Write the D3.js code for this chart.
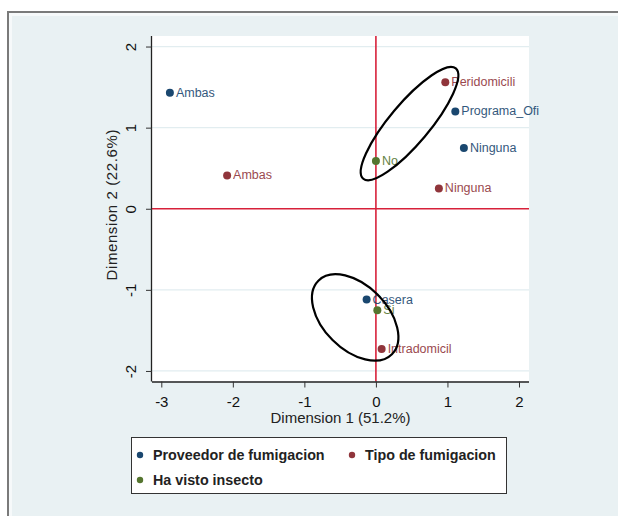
<!DOCTYPE html>
<html>
<head>
<meta charset="utf-8">
<script src="https://cdn.jsdelivr.net/npm/d3@7"></script>
<style>
  body { margin: 0; background: #fff; }
  text { font-family: "Liberation Sans", Arial, sans-serif; }
</style>
</head>
<body>
<div id="chart"></div>
<script>
// groups (legend) and their colours
const groups = ["Proveedor de fumigacion", "Tipo de fumigacion", "Ha visto insecto"];
const groupColors = ["#1a476f", "#90353b", "#55752f"];

// points: label, group index, dim1, dim2
const labels = ["Ambas", "Programa_Ofi", "Ninguna", "Casera",
                "Ambas", "Peridomicili", "Ninguna", "Intradomicil",
                "No", "Si"];
const groupIdx = [0, 0, 0, 0, 1, 1, 1, 1, 2, 2];
const dim1 = [-2.88, 1.11, 1.23, -0.13, -2.08, 0.97, 0.88, 0.08, 0.0, 0.02];
const dim2 = [1.43, 1.20, 0.75, -1.12, 0.41, 1.56, 0.25, -1.73, 0.59, -1.25];

const xTicks = [-3, -2, -1, 0, 1, 2];
const yTicks = [-2, -1, 0, 1, 2];

// hand drawn ellipses (centre in data units)
const ellCx = [0.47, -0.29];
const ellCy = [1.05, -1.34];

const width = 618, height = 516;
const svg = d3.select("#chart").append("svg")
    .attr("width", width)
    .attr("height", height);

// outer frame
svg.append("rect")
    .attr("x", 8).attr("y", 12)
    .attr("width", width).attr("height", height)
    .attr("fill", "#e9f1f3")
    .attr("stroke", "#7a7a7a")
    .attr("stroke-width", 2);
svg.append("rect")
    .attr("x", 10.5).attr("y", 14.5)
    .attr("width", width).attr("height", height)
    .attr("fill", "none")
    .attr("stroke", "#f6f9fa")
    .attr("stroke-width", 3);

const plot = { left: 152, right: 529, top: 36, bottom: 381.5 };

const x = d3.scaleLinear().domain([-3.13, 2.14]).range([plot.left, plot.right]);
const y = d3.scaleLinear().domain([-2.13, 2.13]).range([plot.bottom, plot.top]);

// plot region
svg.append("rect")
    .attr("x", plot.left).attr("y", plot.top)
    .attr("width", plot.right - plot.left)
    .attr("height", plot.bottom - plot.top)
    .attr("fill", "#fff");

// horizontal grid
svg.selectAll(".grid")
    .data(yTicks.filter(d => d !== 0))
    .enter().append("line")
    .attr("x1", plot.left).attr("x2", plot.right)
    .attr("y1", d => y(d)).attr("y2", d => y(d))
    .attr("stroke", "#e2edf0")
    .attr("stroke-width", 1.2);

// reference lines at 0
svg.append("line")
    .attr("x1", plot.left).attr("x2", plot.right)
    .attr("y1", y(0)).attr("y2", y(0))
    .attr("stroke", "#d7213a").attr("stroke-width", 1.6);
svg.append("line")
    .attr("x1", x(0)).attr("x2", x(0))
    .attr("y1", plot.top).attr("y2", plot.bottom)
    .attr("stroke", "#d7213a").attr("stroke-width", 1.6);

// axes
const xAxis = svg.append("g")
    .attr("transform", `translate(0,${plot.bottom})`)
    .call(d3.axisBottom(x).tickValues(xTicks).tickSize(6).tickPadding(9).tickFormat(d3.format("d")));
xAxis.select(".domain").attr("d", `M${plot.left},0.5H${plot.right}`).attr("stroke", "#222").attr("stroke-width", 1.3);
xAxis.selectAll(".tick line").attr("stroke", "#333");
xAxis.selectAll(".tick text")
    .style("font-size", "15px").attr("fill", "#111")
    .text(d => d < 0 ? "-" + Math.abs(d) : d);

const yAxis = svg.append("g")
    .attr("transform", `translate(${plot.left},0)`)
    .call(d3.axisLeft(y).tickValues(yTicks).tickSize(6).tickFormat(d3.format("d")));
yAxis.select(".domain").attr("d", `M-0.5,${plot.top}V${plot.bottom}`).attr("stroke", "#222").attr("stroke-width", 1.3);
yAxis.selectAll(".tick line").attr("stroke", "#333");
yAxis.selectAll(".tick text")
    .style("font-size", "15px").attr("fill", "#111")
    .attr("x", 0).attr("dy", 0)
    .attr("text-anchor", "middle")
    .attr("transform", "translate(-20,0) rotate(-90)")
    .attr("dominant-baseline", "middle")
    .text(d => d < 0 ? "-" + Math.abs(d) : d);

// axis titles
svg.append("text")
    .attr("x", (plot.left + plot.right) / 2)
    .attr("y", 423)
    .attr("text-anchor", "middle")
    .style("font-size", "15px")
    .attr("fill", "#222")
    .text("Dimension 1 (51.2%)");

svg.append("text")
    .attr("transform", `translate(117,${(plot.top + plot.bottom) / 2 - 4}) rotate(-90)`)
    .attr("text-anchor", "middle")
    .style("font-size", "15px")
    .style("letter-spacing", "0.6px")
    .attr("fill", "#222")
    .text("Dimension 2 (22.6%)");

// points + labels
const pts = labels.map((l, i) => ({ label: l, g: groupIdx[i], d1: dim1[i], d2: dim2[i] }));

svg.selectAll(".pt")
    .data(pts)
    .enter().append("circle")
    .attr("cx", d => x(d.d1))
    .attr("cy", d => y(d.d2))
    .attr("r", 4)
    .attr("fill", d => groupColors[d.g]);

svg.selectAll(".lbl")
    .data(pts)
    .enter().append("text")
    .attr("x", d => x(d.d1) + 6)
    .attr("y", d => y(d.d2))
    .attr("dominant-baseline", "central")
    .style("font-size", "12.5px")
    .attr("fill", d => groupColors[d.g])
    .attr("opacity", 0.9)
    .text(d => d.label);

// ellipses
const ellRx = [72, 52], ellRy = [20, 32], ellRot = [-50, 45];
svg.selectAll(".ell")
    .data(ellCx.map((c, i) => ({ cx: c, cy: ellCy[i], rx: ellRx[i], ry: ellRy[i], rot: ellRot[i] })))
    .enter().append("ellipse")
    .attr("transform", d => `translate(${x(d.cx)},${y(d.cy)}) rotate(${d.rot})`)
    .attr("rx", d => d.rx)
    .attr("ry", d => d.ry)
    .attr("fill", "none")
    .attr("stroke", "#000")
    .attr("stroke-width", 2.2);

// legend
const legend = svg.append("g");
legend.append("rect")
    .attr("x", 131.5).attr("y", 437.5)
    .attr("width", 375).attr("height", 56)
    .attr("fill", "#fff")
    .attr("stroke", "#333")
    .attr("stroke-width", 1);

const legPos = [[140, 455], [352, 455], [140, 480]];
groups.forEach((g, i) => {
    legend.append("circle")
        .attr("cx", legPos[i][0]).attr("cy", legPos[i][1])
        .attr("r", 3.2)
        .attr("fill", groupColors[i]);
    legend.append("text")
        .attr("x", legPos[i][0] + 13).attr("y", legPos[i][1])
        .attr("dominant-baseline", "central")
        .style("font-size", "14.3px")
        .style("font-weight", "bold")
        .attr("fill", "#222")
        .text(g);
});
</script>
</body>
</html>
